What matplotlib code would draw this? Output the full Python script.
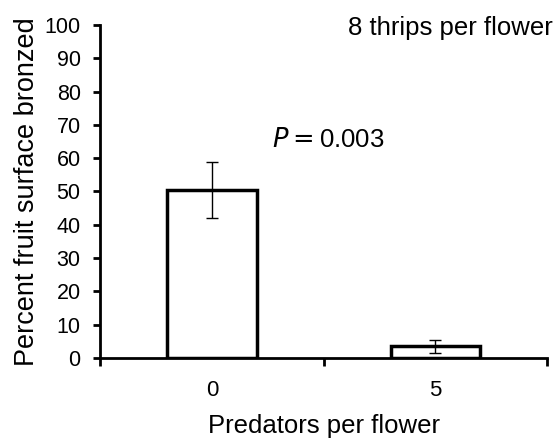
import matplotlib.pyplot as plt

plt.rcParams['font.family'] = ['Liberation Sans', 'DejaVu Sans']

# data
categories = ["0", "5"]
bronzed = [50.5, 3.5]
errors = [8.4, 1.9]
y_ticks = list(range(0, 101, 10))

fig = plt.figure(figsize=(5.56, 4.38), dpi=100)
ax = fig.add_axes([0.18, 0.1826, 0.804, 0.7604])

x_pos = list(range(len(categories)))
ax.bar(x_pos, bronzed, width=0.4, color="white", edgecolor="black", linewidth=2.5, zorder=2)
ax.errorbar(x_pos, bronzed, yerr=errors, fmt="none", ecolor="black", elinewidth=1,
            capsize=4, capthick=1, zorder=3)

ax.set_xlim(-0.5, 1.5)
ax.set_ylim(0, 100)
ax.set_yticks(y_ticks)
ax.set_xticks(x_pos)
ax.set_xticklabels(categories)
# category boundary ticks on the x axis
ax.set_xticks([-0.5, 0.5, 1.5], minor=True)
ax.tick_params(axis="x", which="major", length=0, labelsize=16, pad=16)
ax.tick_params(axis="x", which="minor", length=6, width=2, direction="out")
ax.tick_params(axis="y", length=5, width=2, direction="out", labelsize=15.5, pad=9)

for side in ["top", "right"]:
    ax.spines[side].set_visible(False)
ax.spines["left"].set_linewidth(2)
ax.spines["bottom"].set_linewidth(2)

ax.set_ylabel("Percent fruit surface bronzed", fontsize=19.5, labelpad=3)
ax.set_xlabel("Predators per flower", fontsize=18.5, labelpad=9)

ax.text(1.013, 0.99, "8 thrips per flower", transform=ax.transAxes, ha="right", va="center",
        fontsize=18.5)
ax.text(0.385, 0.655, r"$\mathit{P} = $0.003", transform=ax.transAxes, ha="left", va="center",
        fontsize=18.5)

plt.savefig("out.png", dpi=100)
